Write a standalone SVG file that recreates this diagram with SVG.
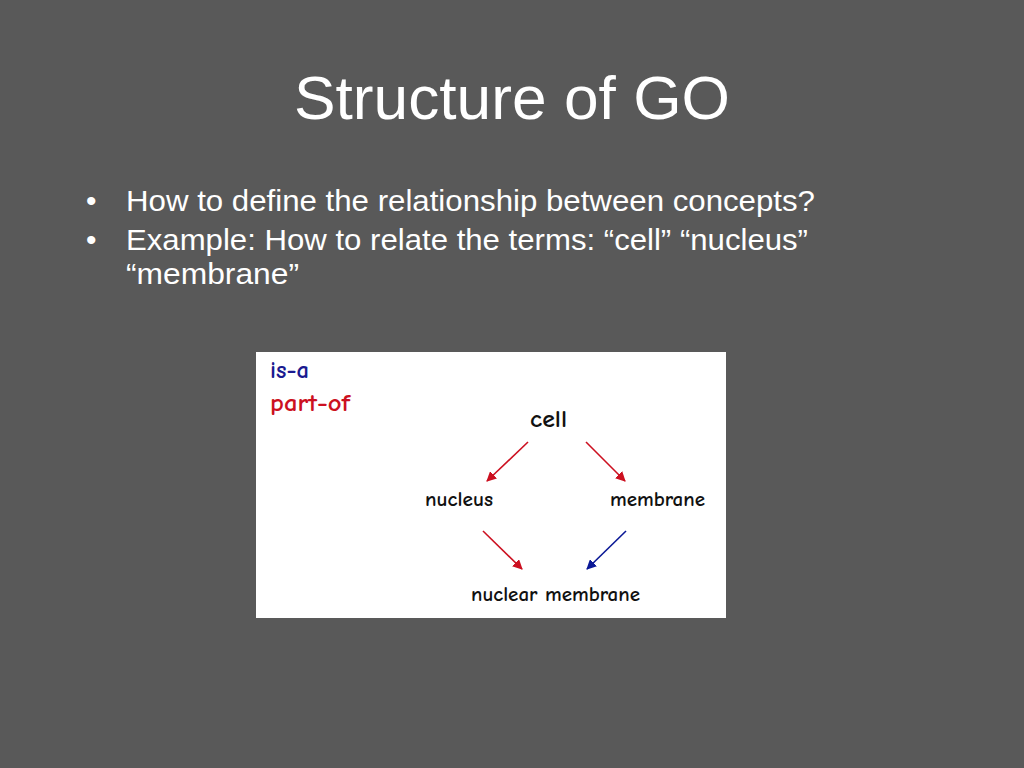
<svg xmlns="http://www.w3.org/2000/svg" width="1024" height="768" viewBox="0 0 1024 768">
<defs>
<style>
.w{fill:#ffffff;font-family:"Liberation Sans",Arial,sans-serif}
.d{font-family:"Comic Neue","Open Sans","DejaVu Sans",sans-serif;fill:#111;font-weight:bold}
.r{stroke:#cc1020;stroke-width:1.6;fill:none}
.b{stroke:#0a1896;stroke-width:1.6;fill:none}
</style>
<marker id="ar" viewBox="0 0 10 10" refX="9" refY="5" markerWidth="10" markerHeight="10" markerUnits="userSpaceOnUse" orient="auto"><path d="M0,0L10,5L0,10z" fill="#cc1020"/></marker>
<marker id="ab" viewBox="0 0 10 10" refX="9" refY="5" markerWidth="10" markerHeight="10" markerUnits="userSpaceOnUse" orient="auto"><path d="M0,0L10,5L0,10z" fill="#0a1896"/></marker>
</defs>
<rect width="1024" height="768" fill="#595959"/>
<text class="w" x="294" y="119" font-size="62" textLength="436" lengthAdjust="spacingAndGlyphs">Structure of GO</text>
<g class="w" font-size="30">
<text x="86" y="211">•</text>
<text x="126" y="211" textLength="689" lengthAdjust="spacingAndGlyphs">How to define the relationship between concepts?</text>
<text x="86" y="250">•</text>
<text x="126" y="250" textLength="682" lengthAdjust="spacingAndGlyphs">Example: How to relate the terms: “cell” “nucleus”</text>
<text x="126" y="284" textLength="173" lengthAdjust="spacingAndGlyphs">“membrane”</text>
</g>
<rect x="256" y="352" width="470" height="266" fill="#ffffff"/>
<g id="legend">
<text class="d" x="270" y="378" font-size="24" textLength="39" lengthAdjust="spacingAndGlyphs" style="fill:#1a1a90">is-a</text>
<text class="d" x="270" y="411" font-size="24" textLength="80" lengthAdjust="spacingAndGlyphs" style="fill:#cc1020">part-of</text>
</g>
<g id="cell"><text class="d" x="530" y="427" font-size="24" textLength="37" lengthAdjust="spacingAndGlyphs">cell</text></g>
<g id="nucleus"><text class="d" x="425" y="506" font-size="21" textLength="68" lengthAdjust="spacingAndGlyphs">nucleus</text></g>
<g id="membrane"><text class="d" x="610" y="506" font-size="21" textLength="95" lengthAdjust="spacingAndGlyphs">membrane</text></g>
<g id="nuclear-membrane"><text class="d" x="471" y="601" font-size="21" textLength="169" lengthAdjust="spacingAndGlyphs">nuclear membrane</text></g>
<g id="connectors">
<line class="r" x1="528" y1="442" x2="487" y2="481" marker-end="url(#ar)"/>
<line class="r" x1="586" y1="442" x2="625" y2="481" marker-end="url(#ar)"/>
<line class="r" x1="483" y1="531" x2="522" y2="569" marker-end="url(#ar)"/>
<line class="b" x1="626" y1="531" x2="587" y2="569" marker-end="url(#ab)"/>
</g>
</svg>
